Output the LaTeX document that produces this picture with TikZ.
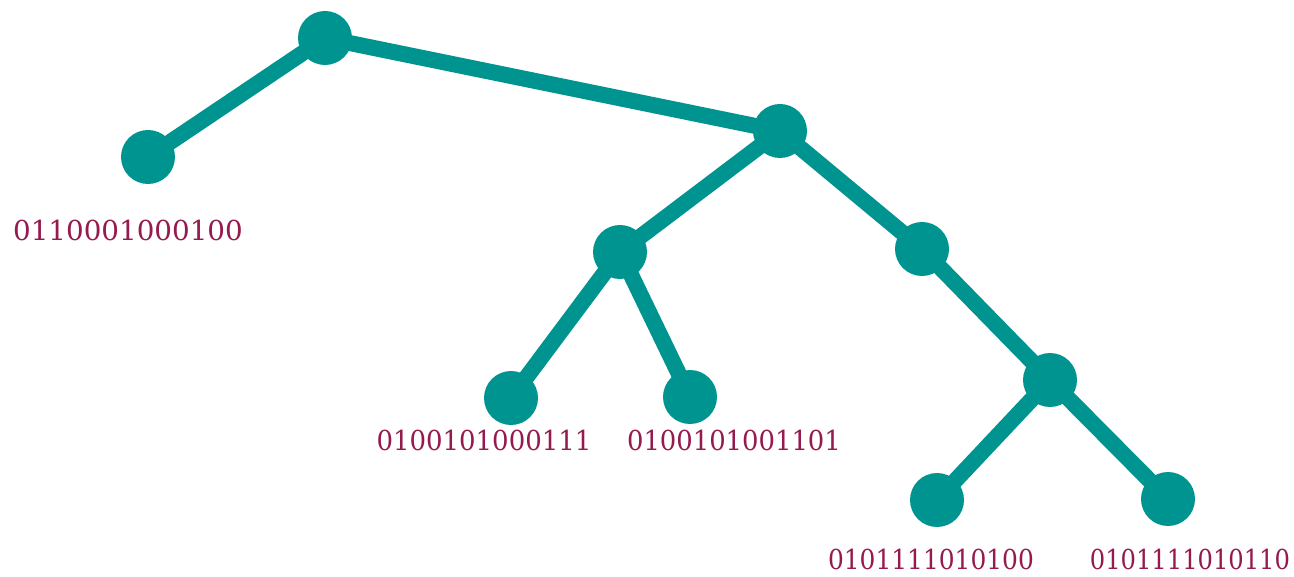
\documentclass[tikz,border=0pt]{standalone}
\usepackage{graphicx}
\usepackage{fontspec}
\setmainfont{DejaVu Serif}
\definecolor{teal1}{HTML}{009490}
\definecolor{wine}{HTML}{951A4E}
\newcommand{\sqz}[2]{\scalebox{#1}[1]{#2}}
\begin{document}
\begin{tikzpicture}[x=1pt,y=-1pt,
  vtx/.style={circle,fill=teal1,minimum size=54pt,inner sep=0pt},
  edge/.style={draw=teal1,line width=16pt},
  lbl/.style={text=wine,font=\fontsize{27.5}{32}\selectfont,inner sep=0pt}]
\useasboundingbox (0,0) rectangle (1294,577);
\node[vtx] (r) at (325,38) {};
\node[vtx] (l) at (148,157) {};
\node[vtx] (a) at (780,131) {};
\node[vtx] (b) at (620,252) {};
\node[vtx] (c) at (922,249) {};
\node[vtx] (d) at (511,398) {};
\node[vtx] (e) at (690,397) {};
\node[vtx] (f) at (1050,380) {};
\node[vtx] (g) at (937,500) {};
\node[vtx] (h) at (1168,499) {};
\draw[edge] (r.center) -- (l.center);
\draw[edge] (r.center) -- (a.center);
\draw[edge] (a.center) -- (b.center);
\draw[edge] (a.center) -- (c.center);
\draw[edge] (b.center) -- (d.center);
\draw[edge] (b.center) -- (e.center);
\draw[edge] (c.center) -- (f.center);
\draw[edge] (f.center) -- (g.center);
\draw[edge] (f.center) -- (h.center);
\node[lbl] (tl) at (128,230) {\sqz{1.01}{0110001000100}};
\node[lbl] (td) at (484,440) {\sqz{0.945}{0100101000111}};
\node[lbl] (te) at (734,440) {\sqz{0.94}{0100101001101}};
\node[lbl] (tg) at (931,559) {\sqz{0.905}{0101111010100}};
\node[lbl] (th) at (1190,559) {\sqz{0.88}{0101111010110}};
\end{tikzpicture}
\end{document}
